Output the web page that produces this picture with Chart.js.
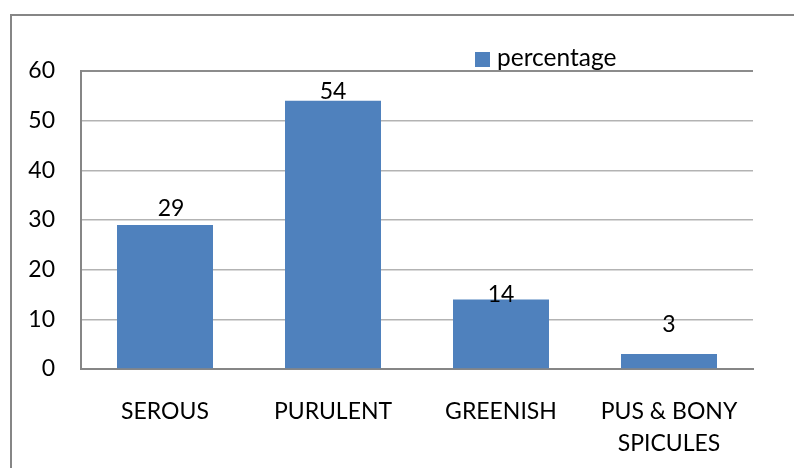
<!DOCTYPE html>
<html>
<head>
<meta charset="utf-8">
<script src="https://cdn.jsdelivr.net/npm/chart.js@4"></script>
<style>
html,body{margin:0;padding:0;background:#fff;}
#wrap{width:794px;height:468px;}
</style>
</head>
<body>
<div id="wrap"><canvas id="c" width="794" height="468"></canvas></div>
<script>
const categories = ['SEROUS', 'PURULENT', 'GREENISH', ['PUS & BONY', 'SPICULES']];
const seriesName = 'percentage';
const percentage = [29, 54, 14, 3];
const yTicks = [0, 10, 20, 30, 40, 50, 60];

const FONT = 'Lato, "Open Sans", sans-serif';
const FS = 23;
const BAR = '#4f81bd';

const framePlugin = {
  id: 'frame',
  beforeDraw(chart) {
    const ctx = chart.ctx;
    ctx.save();
    ctx.fillStyle = '#fff';
    ctx.fillRect(0, 0, chart.width, chart.height);
    ctx.strokeStyle = '#868686';
    ctx.lineWidth = 2;
    ctx.beginPath();
    ctx.moveTo(11, 468);
    ctx.lineTo(11, 15);
    ctx.lineTo(794, 15);
    ctx.stroke();
    ctx.restore();
  }
};

const labelPlugin = {
  id: 'valueLabels',
  afterDatasetsDraw(chart) {
    const ctx = chart.ctx;
    const meta = chart.getDatasetMeta(0);
    const dx = [6, 0, 0, 0];
    const dy = [-9, -2, 3, -22];
    ctx.save();
    ctx.font = FS + 'px ' + FONT;
    ctx.fillStyle = '#000';
    ctx.textAlign = 'center';
    ctx.textBaseline = 'alphabetic';
    meta.data.forEach((bar, i) => {
      ctx.fillText(String(chart.data.datasets[0].data[i]), bar.x + dx[i], bar.y + dy[i]);
    });
    // legend
    const ds = chart.data.datasets[0];
    ctx.fillStyle = ds.backgroundColor;
    ctx.fillRect(475, 52, 15, 15);
    ctx.fillStyle = '#000';
    ctx.textAlign = 'left';
    ctx.font = '24.5px ' + FONT;
    ctx.fillText(ds.label, 497, 66);
    ctx.restore();
  }
};

new Chart(document.getElementById('c'), {
  type: 'bar',
  data: {
    labels: categories,
    datasets: [{
      label: seriesName,
      data: percentage,
      backgroundColor: BAR,
      borderWidth: 0,
      barPercentage: 1 / 1.75,
      categoryPercentage: 1
    }]
  },
  options: {
    responsive: false,
    devicePixelRatio: 1,
    animation: false,
    layout: { padding: { top: 71, right: 41, left: 0, bottom: 0 } },
    plugins: { legend: { display: false }, tooltip: { enabled: false } },
    scales: {
      x: {
        grid: { display: false, drawTicks: false },
        border: { color: '#868686', width: 2 },
        ticks: {
          color: '#000',
          font: { family: FONT, size: FS, lineHeight: 32 / FS },
          padding: 27,
          maxRotation: 0,
          autoSkip: false
        },
        afterFit(scale) { scale.height = 99; }
      },
      y: {
        min: 0,
        max: 60,
        afterBuildTicks(scale) { scale.ticks = yTicks.map(v => ({ value: v })); },
        grid: {
          drawTicks: false,
          color: ctx => (ctx.tick && ctx.tick.value === 60) ? '#8c8c8c' : '#b3b3b3',
          lineWidth: ctx => (ctx.tick && ctx.tick.value === 60) ? 2 : 1.5
        },
        border: { color: '#868686', width: 2 },
        ticks: {
          color: '#000',
          font: { family: FONT, size: FS },
          padding: 26
        },
        afterFit(scale) { scale.width = 81; }
      }
    }
  },
  plugins: [framePlugin, labelPlugin]
});
</script>
</body>
</html>
